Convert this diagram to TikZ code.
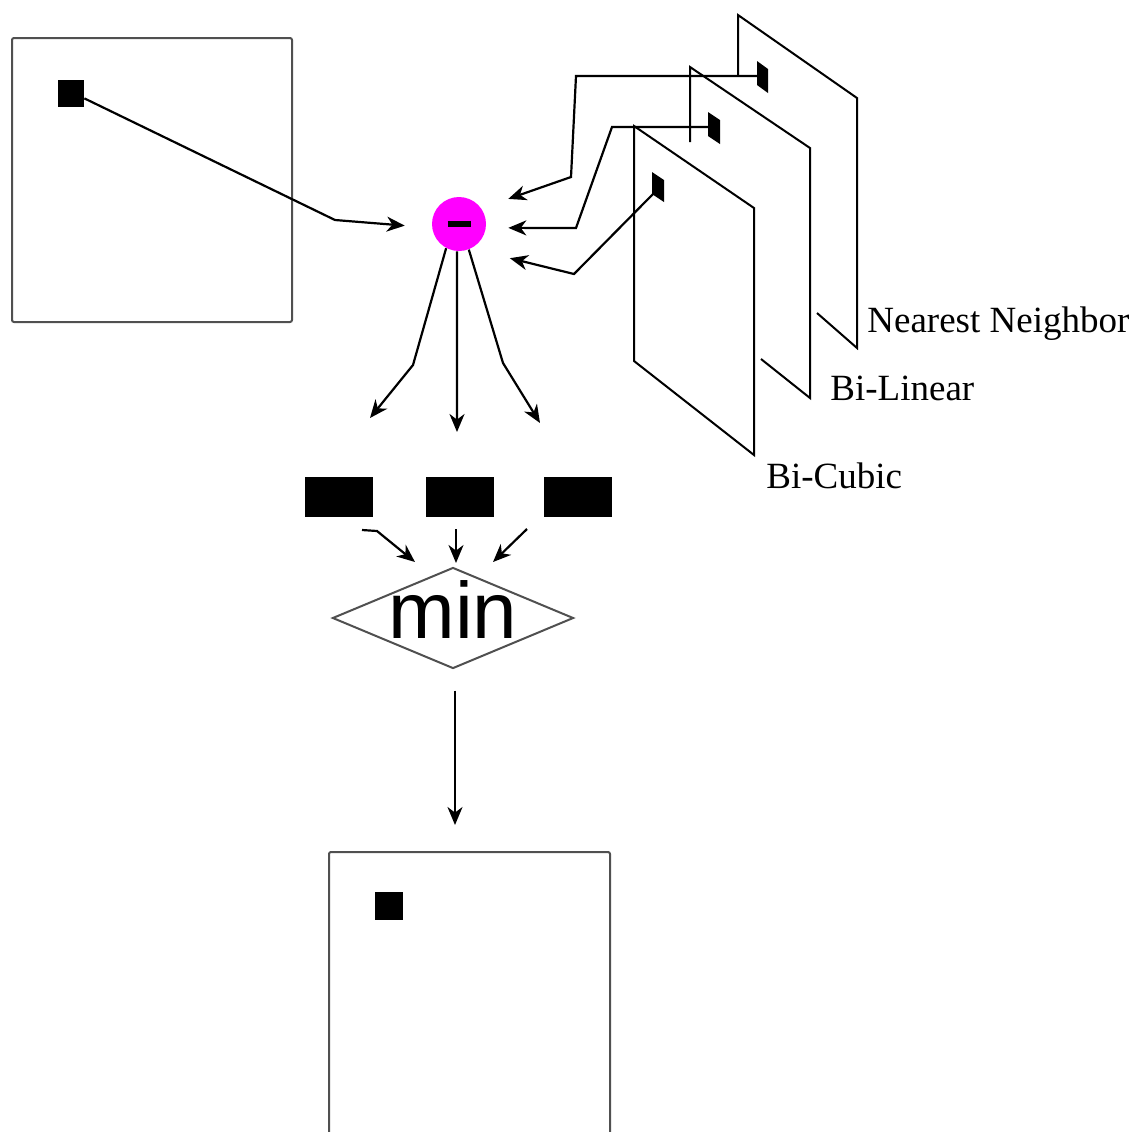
\documentclass[tikz,border=0pt]{standalone}
\usepackage{fontspec}
\setmainfont{Liberation Serif}
\newfontfamily\minfont{Liberation Sans}
\usetikzlibrary{arrows.meta,shapes.geometric}
\definecolor{mag}{RGB}{255,0,255}
\definecolor{boxgray}{RGB}{80,80,80}
\begin{document}
\begin{tikzpicture}[x=0.5pt,y=-0.5pt,
  conn/.style={line width=1.1pt,-{Stealth[length=9pt,width=7.5pt,inset=2.8pt]}},
  edge/.style={line width=1pt,line join=miter},
  frame/.style={draw=boxgray,line width=1pt,rounded corners=1pt,inner sep=0pt},
  pixsq/.style={fill=black,draw=none,inner sep=0pt},
  diffbar/.style={fill=black,draw=none,inner sep=0pt,minimum width=34pt,minimum height=20pt},
  lab/.style={font=\fontsize{18.5}{20}\selectfont,inner sep=0pt,anchor=base west}]
\useasboundingbox (0,0) rectangle (1136,1131);
\clip (0,0) rectangle (1136,1131);

% source image and its pixel
\node[frame,minimum width=140pt,minimum height=142pt] (src) at (152,180) {};
\node[pixsq,minimum width=13pt,minimum height=13.5pt] (srcpix) at (71,93.5) {};

% difference operator
\node[circle,fill=mag,minimum size=27pt,inner sep=0pt] (sub) at (459,224) {\rule{11.5pt}{3pt}};

% interpolated planes
\draw[edge] (738,76) -- (738,15) -- (857,98) -- (857,348) -- (817,313);
\draw[edge] (690,142) -- (690,67) -- (810,148) -- (810,398) -- (761,359);
\draw[edge] (634,126) -- (754,208) -- (754,455) -- (634,361) -- cycle;
\fill (757,61) -- (768,69) -- (768,93) -- (757,85) -- cycle;
\fill (708,112) -- (720,120) -- (720,144) -- (708,136) -- cycle;
\fill (652,172) -- (664,180) -- (664,202) -- (652,194) -- cycle;
\coordinate (pixNN) at (760,76);
\coordinate (pixBL) at (712,127);
\coordinate (pixBC) at (656,191);

\node[lab] (labNN) at (867,332) {Nearest Neighbor};
\node[lab] (labBL) at (830,400) {Bi-Linear};
\node[lab] (labBC) at (766,488) {Bi-Cubic};

% arrows into the difference operator
\draw[conn,shorten >=13.6pt] (srcpix.-20) -- (335,220) -- (sub.188.5);
\draw[conn,shorten >=14.2pt] (pixNN) -- (576,76) -- (571,177) -- (sub.35);
\draw[conn,shorten >=11.1pt] (pixBL) -- (612,127) -- (576,228) -- (sub.-8.5);
\draw[conn,shorten >=20pt] (pixBC) -- (574,274) -- (sub.-64);

% three difference results
\coordinate (e1) at (370,418);
\coordinate (e2) at (457,432);
\coordinate (e3) at (540,423);
\draw[conn] (sub.-118) -- (413,365) -- (e1);
\draw[conn] (sub.-94) -- (e2);
\draw[conn] (sub.-69) -- (503,363) -- (e3);

\node[diffbar] (d1) at (339,497) {};
\node[diffbar] (d2) at (459.5,497) {};
\node[diffbar] (d3) at (577.5,497) {};

% min
\node[diamond,draw=boxgray,line width=1pt,minimum width=120.5pt,minimum height=50.5pt,inner sep=0pt]
  (min) at (453,618) {\smash{\raisebox{-10pt}{\makebox[0pt]{\minfont\fontsize{40}{40}\selectfont min}}}};

\coordinate (s1) at (362,530);
\coordinate (s2) at (456,529);
\coordinate (s3) at (527,529);
\coordinate (t1) at (415,562);
\coordinate (t2) at (456,563);
\coordinate (t3) at (493,562);
\draw[conn] (s1) -- (377,531) -- (t1);
\draw[conn] (s2) -- (t2);
\draw[conn] (s3) -- (t3);

% output image
\node[frame,minimum width=140.5pt,minimum height=142pt] (out) at (469.5,994) {};
\node[pixsq,minimum width=14pt,minimum height=14pt] (outpix) at (389,906) {};

\draw[conn,shorten <=10.5pt,shorten >=13.5pt] (min.south -| 455,0) -- (455,852);
\end{tikzpicture}
\end{document}
